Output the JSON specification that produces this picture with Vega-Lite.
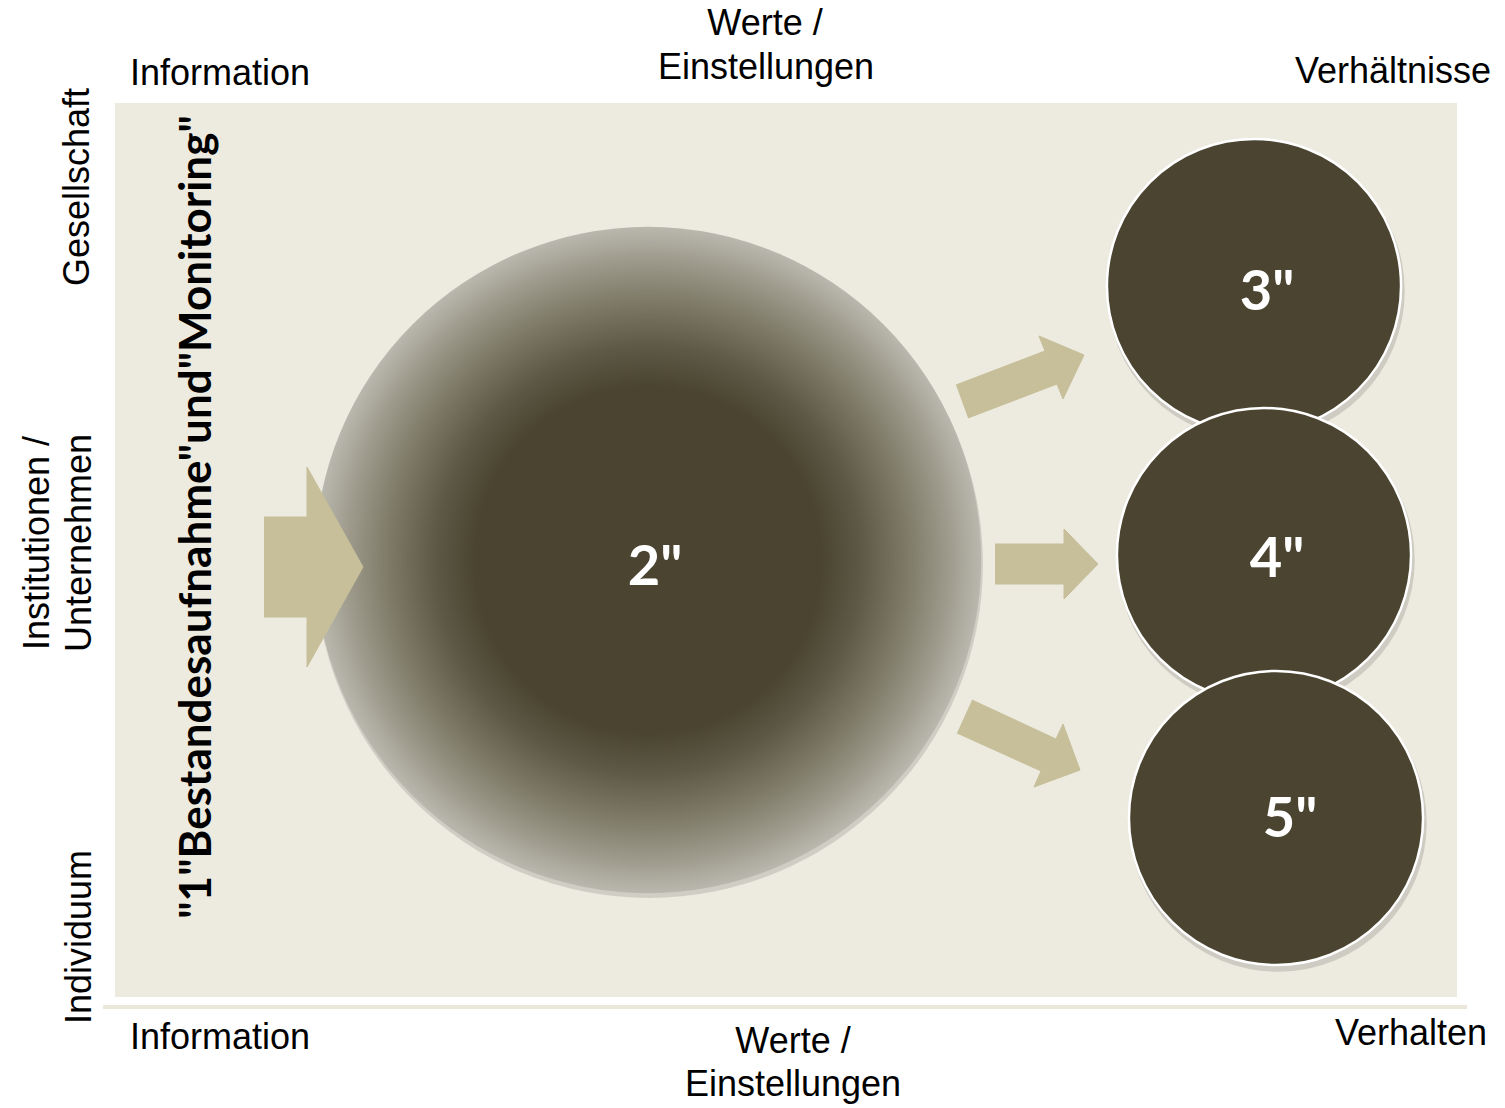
{
  "$schema": "https://vega.github.io/schema/vega-lite/v6.json",
  "width": 1505,
  "height": 1108,
  "autosize": {"type": "none"},
  "padding": 0,
  "background": "#ffffff",
  "config": {"view": {"stroke": null}},
  "datasets": {
    "bg": [{"x": 115, "x2": 1457, "y": 103, "y2": 997}],
    "sep": [{"x": 103, "x2": 1467, "y": 1007}],
    "arrows": [
      {"arrow": "a", "i": 1, "x": 264, "y": 517},
      {"arrow": "a", "i": 2, "x": 307, "y": 517},
      {"arrow": "a", "i": 3, "x": 307, "y": 467},
      {"arrow": "a", "i": 4, "x": 363, "y": 567},
      {"arrow": "a", "i": 5, "x": 307, "y": 667},
      {"arrow": "a", "i": 6, "x": 307, "y": 617},
      {"arrow": "a", "i": 7, "x": 264, "y": 617},
      {"arrow": "b", "i": 1, "x": 956, "y": 385},
      {"arrow": "b", "i": 2, "x": 1045, "y": 351},
      {"arrow": "b", "i": 3, "x": 1039, "y": 336},
      {"arrow": "b", "i": 4, "x": 1084, "y": 355},
      {"arrow": "b", "i": 5, "x": 1063, "y": 399},
      {"arrow": "b", "i": 6, "x": 1057, "y": 384},
      {"arrow": "b", "i": 7, "x": 968, "y": 418},
      {"arrow": "c", "i": 1, "x": 995, "y": 544},
      {"arrow": "c", "i": 2, "x": 1064, "y": 544},
      {"arrow": "c", "i": 3, "x": 1064, "y": 529},
      {"arrow": "c", "i": 4, "x": 1098, "y": 564},
      {"arrow": "c", "i": 5, "x": 1064, "y": 599},
      {"arrow": "c", "i": 6, "x": 1064, "y": 584},
      {"arrow": "c", "i": 7, "x": 995, "y": 584},
      {"arrow": "d", "i": 1, "x": 972, "y": 700},
      {"arrow": "d", "i": 2, "x": 1056, "y": 739},
      {"arrow": "d", "i": 3, "x": 1063, "y": 724},
      {"arrow": "d", "i": 4, "x": 1080, "y": 770},
      {"arrow": "d", "i": 5, "x": 1034, "y": 787},
      {"arrow": "d", "i": 6, "x": 1041, "y": 771},
      {"arrow": "d", "i": 7, "x": 957, "y": 733}
    ],
    "big": [{"id": "2", "x": 648, "y": 560}],
    "small": [
      {"id": "3", "x": 1254, "y": 286},
      {"id": "4", "x": 1264, "y": 555},
      {"id": "5", "x": 1276, "y": 818}
    ],
    "hlabels": [
      {"text": "Information", "x": 220, "y": 74},
      {"text": "Werte /", "x": 765, "y": 24},
      {"text": "Einstellungen", "x": 766, "y": 68},
      {"text": "Verhältnisse", "x": 1393, "y": 72},
      {"text": "Information", "x": 220, "y": 1038},
      {"text": "Werte /", "x": 793, "y": 1042},
      {"text": "Einstellungen", "x": 793, "y": 1085},
      {"text": "Verhalten", "x": 1411, "y": 1034}
    ],
    "vlabels": [
      {"text": "Gesellschaft", "x": 78, "y": 187},
      {"text": "Institutionen /", "x": 38, "y": 543},
      {"text": "Unternehmen", "x": 80, "y": 543},
      {"text": "Individuum", "x": 80, "y": 937}
    ],
    "title": [{"text": "\"1\"Bestandesaufnahme\"und\"Monitoring\"", "x": 198, "y": 517}],
    "nums": [
      {"text": "2\"", "x": 655, "y": 568},
      {"text": "3\"", "x": 1267, "y": 293},
      {"text": "4\"", "x": 1277, "y": 560},
      {"text": "5\"", "x": 1290, "y": 820}
    ]
  },
  "encoding": {
    "x": {"field": "x", "type": "quantitative", "scale": {"domain": [0, 1505], "nice": false, "zero": false}, "axis": null},
    "y": {"field": "y", "type": "quantitative", "scale": {"domain": [0, 1108], "nice": false, "zero": false, "reverse": true}, "axis": null}
  },
  "layer": [
    {
      "data": {"name": "bg"},
      "mark": {"type": "rect", "fill": "#edeae0"},
      "encoding": {"x2": {"field": "x2"}, "y2": {"field": "y2"}}
    },
    {
      "data": {"name": "sep"},
      "mark": {"type": "rule", "stroke": "#ebe8d9", "strokeWidth": 4},
      "encoding": {"x2": {"field": "x2"}}
    },
    {
      "data": {"name": "big"},
      "mark": {"type": "point", "shape": "circle", "filled": true, "opacity": 0.12, "size": 446000, "color": "#000000", "xOffset": 1, "yOffset": 4}
    },
    {
      "data": {"name": "big"},
      "mark": {
        "type": "point", "shape": "circle", "filled": true, "opacity": 1, "size": 444000, "strokeWidth": 0,
        "fill": {
          "gradient": "radial", "x1": 0.5, "y1": 0.5, "r1": 0, "x2": 0.5, "y2": 0.5, "r2": 0.5,
          "stops": [
            {"offset": 0, "color": "#4a4430"},
            {"offset": 0.52, "color": "#4a4430"},
            {"offset": 0.64, "color": "#5e5946"},
            {"offset": 0.77, "color": "#7c7865"},
            {"offset": 0.9, "color": "#9d9a8c"},
            {"offset": 1, "color": "#bab8ae"}
          ]
        }
      }
    },
    {
      "data": {"name": "arrows"},
      "mark": {"type": "line", "fill": "#c6bf99", "stroke": "#c6bf99", "strokeWidth": 1, "interpolate": "linear"},
      "encoding": {"detail": {"field": "arrow"}, "order": {"field": "i", "type": "quantitative"}}
    },
    {
      "data": {"name": "small"},
      "transform": [{"filter": "datum.id == '3'"}],
      "mark": {"type": "point", "shape": "circle", "filled": true, "opacity": 0.13, "size": 88500, "color": "#000000", "xOffset": 2, "yOffset": 5}
    },
    {
      "data": {"name": "small"},
      "transform": [{"filter": "datum.id == '3'"}],
      "mark": {"type": "point", "shape": "circle", "filled": true, "opacity": 1, "size": 86500, "fill": "#4a4430", "stroke": "#ffffff", "strokeWidth": 2.5}
    },
    {
      "data": {"name": "small"},
      "transform": [{"filter": "datum.id == '4'"}],
      "mark": {"type": "point", "shape": "circle", "filled": true, "opacity": 0.13, "size": 88500, "color": "#000000", "xOffset": 2, "yOffset": 5}
    },
    {
      "data": {"name": "small"},
      "transform": [{"filter": "datum.id == '4'"}],
      "mark": {"type": "point", "shape": "circle", "filled": true, "opacity": 1, "size": 86500, "fill": "#4a4430", "stroke": "#ffffff", "strokeWidth": 2.5}
    },
    {
      "data": {"name": "small"},
      "transform": [{"filter": "datum.id == '5'"}],
      "mark": {"type": "point", "shape": "circle", "filled": true, "opacity": 0.13, "size": 88500, "color": "#000000", "xOffset": 2, "yOffset": 5}
    },
    {
      "data": {"name": "small"},
      "transform": [{"filter": "datum.id == '5'"}],
      "mark": {"type": "point", "shape": "circle", "filled": true, "opacity": 1, "size": 86500, "fill": "#4a4430", "stroke": "#ffffff", "strokeWidth": 2.5}
    },
    {
      "data": {"name": "hlabels"},
      "mark": {"type": "text", "font": "Liberation Sans", "fontSize": 36, "align": "center", "baseline": "middle", "color": "#000000"},
      "encoding": {"text": {"field": "text"}}
    },
    {
      "data": {"name": "vlabels"},
      "mark": {"type": "text", "font": "Liberation Sans", "fontSize": 36, "align": "center", "baseline": "middle", "angle": 270, "color": "#000000"},
      "encoding": {"text": {"field": "text"}}
    },
    {
      "data": {"name": "title"},
      "mark": {"type": "text", "font": "Lato", "fontWeight": "bold", "fontSize": 44, "align": "center", "baseline": "middle", "angle": 270, "color": "#000000"},
      "encoding": {"text": {"field": "text"}}
    },
    {
      "data": {"name": "nums"},
      "mark": {"type": "text", "font": "Lato", "fontWeight": "bold", "fontSize": 56, "align": "center", "baseline": "middle", "color": "#ffffff"},
      "encoding": {"text": {"field": "text"}}
    }
  ]
}
